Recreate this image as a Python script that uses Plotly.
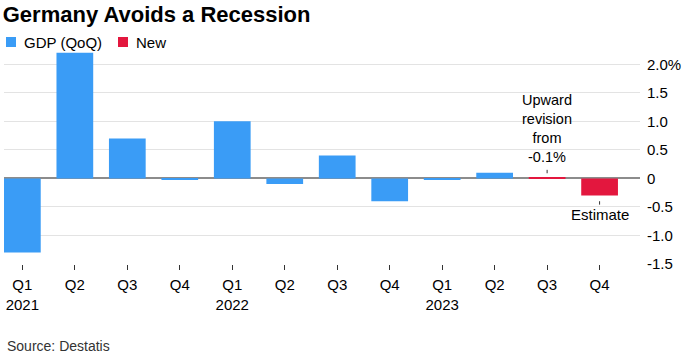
import plotly.graph_objects as go

quarters = ["Q1<br>2021", "Q2", "Q3", "Q4", "Q1<br>2022", "Q2", "Q3", "Q4",
            "Q1<br>2023", "Q2", "Q3", "Q4"]
gdp_values = [-1.3, 2.2, 0.7, -0.02, 1.0, -0.1, 0.4, -0.4, -0.02, 0.1, None, None]
new_values = [None] * 10 + [0.02, -0.3]
y_tickvals = [2.0, 1.5, 1.0, 0.5, 0, -0.5, -1.0, -1.5]
y_ticktext = ["2.0%", "1.5", "1.0", "0.5", "0", "-0.5", "-1.0", "-1.5"]

BLUE = "#3a9cf6"
RED = "#e3173e"
FONT = "Liberation Sans, Arial, sans-serif"

idx = list(range(len(quarters)))

fig = go.Figure()
fig.add_trace(go.Bar(x=idx, y=gdp_values, name="GDP (QoQ)", marker_color=BLUE,
                     marker_line_width=0, width=0.7, showlegend=False))
fig.add_trace(go.Bar(x=idx, y=new_values, name="New", marker_color=RED,
                     marker_line_width=0, width=0.7, showlegend=False))

fig.update_layout(
    width=686, height=358,
    margin=dict(l=4, r=46, t=50, b=94),
    paper_bgcolor="white", plot_bgcolor="white",
    barmode="overlay",
    font=dict(family=FONT, size=15, color="#000"),
    title=dict(text="<b>Germany Avoids a Recession</b>", x=0.004, xanchor="left",
               y=1 - 14 / 358, yanchor="middle", yref="container",
               font=dict(size=22, color="#000", family=FONT)),
)

fig.update_xaxes(
    range=[-0.35, 11.77], tickvals=idx, ticktext=quarters,
    ticks="outside", ticklen=5, tickcolor="#333", tickwidth=1,
    showgrid=False, zeroline=False, showline=False,
    tickfont=dict(size=15, color="#000"), ticklabelstandoff=2,
)
fig.update_yaxes(
    range=[-1.5, 2.25], side="right", tickvals=y_tickvals, ticktext=y_ticktext,
    ticks="", showgrid=True, gridcolor="#e3e3e3", gridwidth=1,
    zeroline=True, zerolinecolor="#8c8c8c", zerolinewidth=2,
    tickfont=dict(size=15, color="#000"), ticklabelstandoff=6,
)

# Legend drawn manually
def px_to_paper_x(px):
    return (px - 4) / 636

def px_to_paper_y(py):
    return (264 - py) / 214

for x0, color, label, tx in [(6, BLUE, "GDP (QoQ)", 22), (118, RED, "New", 134)]:
    fig.add_shape(type="rect", xref="paper", yref="paper",
                  x0=px_to_paper_x(x0), x1=px_to_paper_x(x0 + 10),
                  y0=px_to_paper_y(47), y1=px_to_paper_y(37),
                  fillcolor=color, line_width=0)
    fig.add_annotation(xref="paper", yref="paper", x=px_to_paper_x(tx),
                       y=px_to_paper_y(42), text=label, showarrow=False,
                       xanchor="left", yanchor="middle",
                       font=dict(size=15, color="#000"))

# Annotations
fig.add_annotation(x=10, y=0.88, xref="x", yref="y",
                   text="Upward<br>revision<br>from<br>-0.1%", showarrow=False,
                   xanchor="center", yanchor="middle", align="center",
                   font=dict(size=14.5, color="#000"))
fig.add_shape(type="line", xref="x", yref="y", x0=10, x1=10, y0=0.09, y1=0.15,
              line=dict(color="#333", width=1))
fig.add_annotation(x=11, y=-0.64, xref="x", yref="y", text="Estimate",
                   showarrow=False, xanchor="center", yanchor="middle",
                   font=dict(size=15, color="#000"))
fig.add_shape(type="line", xref="x", yref="y", x0=11, x1=11, y0=-0.4, y1=-0.46,
              line=dict(color="#333", width=1))

fig.add_annotation(xref="paper", yref="paper", x=px_to_paper_x(5), y=px_to_paper_y(346),
                   text="Source: Destatis", showarrow=False, xanchor="left",
                   yanchor="middle", font=dict(size=14, color="#333"))

fig.write_html("out.html", config={"displayModeBar": False},
               post_script="document.body.style.margin='0';")
